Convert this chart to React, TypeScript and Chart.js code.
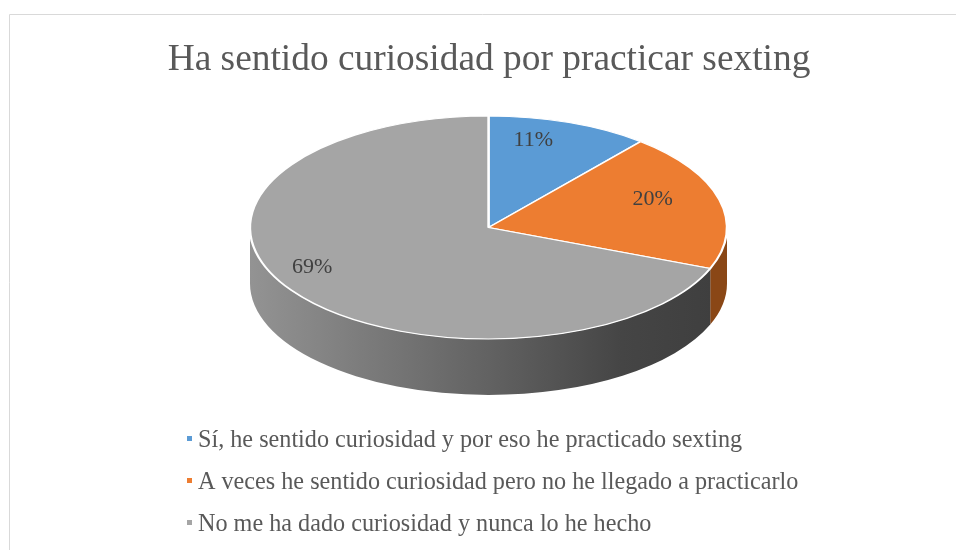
import React, { useEffect, useRef } from "react";
import { Chart, registerables } from "chart.js";

Chart.register(...registerables);

const TITLE = "Ha sentido curiosidad por practicar sexting";
const CATEGORIES = [
  "Sí, he sentido curiosidad y por eso he practicado sexting",
  "A veces he sentido curiosidad pero no he llegado a practicarlo",
  "No me ha dado curiosidad y nunca lo he hecho",
];
const VALUES = [11, 20, 69];
const COLORS = ["#5b9bd5", "#ed7d31", "#a5a5a5"];
const WALL_COLORS = ["#3f76a8", "#8a4716", null];

const W = 956;
const H = 550;
const CX = 488.5;
const CY = 227.5;
const RX = 238.5;
const RY = 111.5;
const DEPTH = 56;
const FONT = '"Liberation Serif", "Times New Roman", serif';

function drawText(ctx: CanvasRenderingContext2D, text: string, x: number, y: number, size: number, color: string, align: CanvasTextAlign) {
  ctx.save();
  ctx.font = `${size}px ${FONT}`;
  ctx.fillStyle = color;
  ctx.textAlign = align;
  ctx.textBaseline = "alphabetic";
  ctx.fillText(text, x, y);
  ctx.restore();
}

const pie3d = {
  id: "pie3d",
  beforeDatasetsDraw(chart: any) {
    const ctx: CanvasRenderingContext2D = chart.ctx;
    const meta = chart.getDatasetMeta(0);
    meta.data.forEach((el: any, i: number) => {
      const lo = Math.max(el.startAngle, 0);
      const hi = Math.min(el.endAngle, Math.PI);
      if (lo >= hi) return;
      ctx.save();
      ctx.beginPath();
      ctx.ellipse(CX, CY, RX, RY, 0, lo, hi, false);
      ctx.lineTo(CX + RX * Math.cos(hi), CY + DEPTH + RY * Math.sin(hi));
      ctx.ellipse(CX, CY + DEPTH, RX, RY, 0, hi, lo, true);
      ctx.closePath();
      if (WALL_COLORS[i]) {
        ctx.fillStyle = WALL_COLORS[i] as string;
      } else {
        const g = ctx.createLinearGradient(CX - RX, 0, CX + RX, 0);
        g.addColorStop(0, "#939393");
        g.addColorStop(0.5, "#626262");
        g.addColorStop(0.78, "#454545");
        g.addColorStop(1, "#3e3e3e");
        ctx.fillStyle = g;
      }
      ctx.fill();
      ctx.restore();
    });
    const el0 = meta.data[0];
    const r = el0.outerRadius;
    ctx.save();
    ctx.translate(CX, CY);
    ctx.scale(RX / r, RY / r);
    ctx.translate(-el0.x, -el0.y);
  },
  afterDatasetsDraw(chart: any) {
    chart.ctx.restore();
  },
  afterDraw(chart: any) {
    const ctx: CanvasRenderingContext2D = chart.ctx;
    ctx.save();
    ctx.strokeStyle = "#d9d9d9";
    ctx.lineWidth = 1;
    ctx.beginPath();
    ctx.moveTo(9.5, H);
    ctx.lineTo(9.5, 14.5);
    ctx.lineTo(W, 14.5);
    ctx.stroke();
    ctx.restore();

    drawText(ctx, TITLE, 489, 70, 37.4, "#595959", "center");

    const meta = chart.getDatasetMeta(0);
    const total = VALUES.reduce((a, b) => a + b, 0);
    meta.data.forEach((el: any, i: number) => {
      const mid = (el.startAngle + el.endAngle) / 2;
      const x = 469 + RX * 0.795 * Math.cos(mid);
      const y = 218.3 + RY * 0.756 * Math.sin(mid);
      drawText(ctx, Math.round((VALUES[i] / total) * 100) + "%", x, y + 7.5, 22, "#404040", "center");
    });

    CATEGORIES.forEach((c, i) => {
      const base = 447 + i * 42;
      ctx.fillStyle = COLORS[i];
      ctx.fillRect(187, base - 11, 5, 5);
      drawText(ctx, c, 198, base, 24.2, "#595959", "left");
    });
  },
};

export default function App() {
  const ref = useRef<HTMLCanvasElement>(null);
  useEffect(() => {
    if (!ref.current) return;
    const chart = new Chart(ref.current, {
      type: "pie",
      data: {
        labels: CATEGORIES,
        datasets: [
          {
            data: VALUES,
            backgroundColor: COLORS,
            borderColor: "#ffffff",
            borderWidth: 1.5,
          },
        ],
      },
      options: {
        responsive: false,
        maintainAspectRatio: false,
        animation: false,
        devicePixelRatio: 1,
        layout: { padding: { top: 100, bottom: 150, left: 300, right: 300 } },
        plugins: {
          legend: { display: false },
          title: { display: false },
          tooltip: { enabled: false },
        },
      },
      plugins: [pie3d],
    });
    return () => chart.destroy();
  }, []);
  return (
    <div style={{ position: "fixed", left: 0, top: 0, width: W, height: H, background: "#fff" }}>
      <canvas ref={ref} width={W} height={H} style={{ width: W, height: H, display: "block" }} />
    </div>
  );
}
